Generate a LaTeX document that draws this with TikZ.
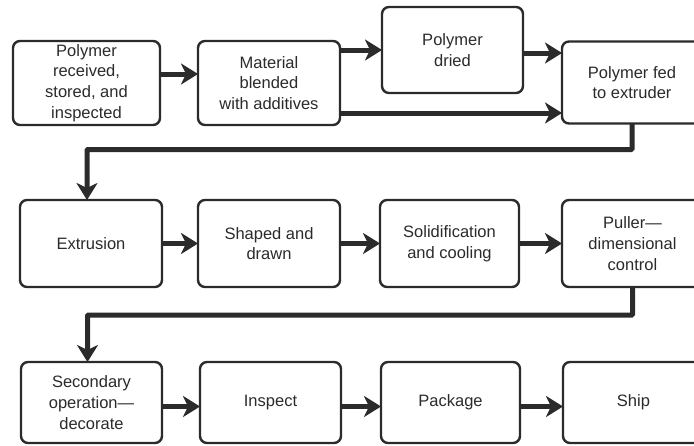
\documentclass[tikz,border=0pt]{standalone}
\usepackage{fontspec}
\setmainfont{Liberation Sans}
\usepackage{xcolor}
\usetikzlibrary{arrows.meta, positioning}
\definecolor{ink}{HTML}{2B2B2B}
\tikzset{
  stage/.style={rectangle, draw=ink, line width=2.4pt, rounded corners=7pt,
                fill=white, text=ink, align=center, inner sep=2pt, outer sep=0pt,
                minimum width=141pt, minimum height=87pt,
                font=\fontsize{16.5}{20.8}\selectfont},
  flow/.style={-{Stealth[length=17pt, width=21pt, inset=5pt]},
               draw=ink, line width=5pt},
  route/.style={flow, rounded corners=1pt}
}
\begin{document}
\begin{tikzpicture}[x=1pt, y=-1pt]
    \useasboundingbox (0,0) rectangle (694,445);
    \clip (0,0) rectangle (694,445);
    % row 1: receiving and preparation
    \node[stage, minimum width=147pt, minimum height=84pt] (rcv) at (86.5,83)
         {Polymer\\received,\\stored, and\\inspected};
    \node[stage, minimum width=142pt, minimum height=84pt, right=38pt of rcv] (blend)
         {Material\\blended\\with additives};
    \node[stage, minimum height=86pt] (dried) at (452.5,50) {Polymer\\dried};
    \node[stage, minimum width=140pt, minimum height=82pt] (fed) at (632,82.5)
         {Polymer fed\\to extruder};
    % row 2: extrusion line
    \node[stage, minimum width=142pt] (extr) at (91,243.5) {Extrusion};
    \node[stage, minimum width=142pt, right=36pt of extr] (shape) {Shaped and\\drawn};
    \node[stage, minimum width=139pt, right=40pt of shape] (solid) {Solidification\\and cooling};
    \node[stage, right=43pt of solid] (pull) {Puller---\\dimensional\\control};
    % row 3: finishing
    \node[stage, minimum height=81pt] (sec) at (91.5,402.5) {Secondary\\operation---\\decorate};
    \node[stage, minimum height=81pt, right=38pt of sec] (insp) {Inspect};
    \node[stage, minimum width=139pt, minimum height=81pt, right=40pt of insp] (pack) {Package};
    \node[stage, minimum height=81pt, right=43pt of pack] (ship) {Ship};

    \draw[flow] ([yshift=9pt]rcv.east) -- ([yshift=9pt]blend.west);
    \draw[flow] (blend.east |- dried.west) -- (dried.west);
    \draw[flow] ([yshift=-3pt]dried.east) -- ([yshift=-3pt]dried.east -| fed.west);
    \draw[flow] ([yshift=-30pt]blend.east) -- ([yshift=-30pt]blend.east -| fed.west);
    \draw[route] (fed.south) -- ++(0,26) -| ([xshift=-4pt]extr.north);
    \foreach \a/\b in {extr/shape, shape/solid, solid/pull}
      \draw[flow] (\a) -- (\b);
    \foreach \a/\b in {sec/insp, insp/pack, pack/ship}
      \draw[flow] ([yshift=-4pt]\a.east) -- ([yshift=-4pt]\b.west);
    \draw[route] (pull.south) -- ++(0,28) -| ([xshift=-4pt]sec.north);
\end{tikzpicture}
\end{document}
